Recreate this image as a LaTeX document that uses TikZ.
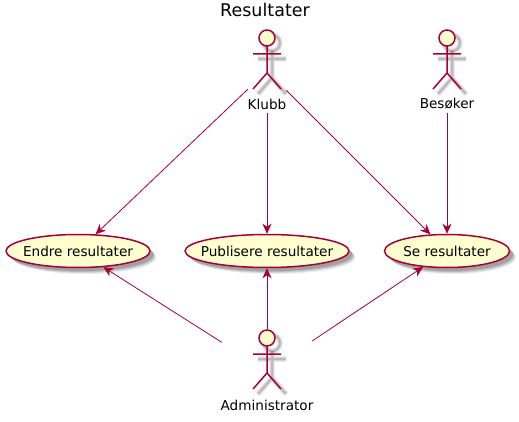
\documentclass[tikz,border=0pt]{standalone}
\usepackage{fontspec}
\setmainfont{DejaVu Sans}
\usetikzlibrary{arrows.meta,positioning,shapes.geometric,shadows}
\definecolor{umlline}{HTML}{A80036}
\definecolor{umlfill}{HTML}{FEFECE}
\tikzset{
  usecase/.style={ellipse,draw=umlline,fill=umlfill,line width=1.5pt,inner xsep=-10pt,inner ysep=0pt,
    minimum height=33pt,font=\fontsize{13.6}{16}\selectfont,
    drop shadow={shadow xshift=6.5pt,shadow yshift=-6.5pt,fill=black,opacity=.07},
    drop shadow={shadow xshift=5.5pt,shadow yshift=-5.5pt,fill=black,opacity=.10},
    drop shadow={shadow xshift=4.5pt,shadow yshift=-4.5pt,fill=black,opacity=.13},
    drop shadow={shadow xshift=3.5pt,shadow yshift=-3.5pt,fill=black,opacity=.13}},
  actorbox/.style={rectangle,inner sep=0pt,minimum height=84pt},
  actortext/.style={inner sep=0pt,font=\fontsize{13.6}{16}\selectfont},
  link/.style={draw=umlline,line width=.8pt,-{Stealth[length=10pt,width=9pt,inset=3pt]}},
  pics/stickman/.style={code={
    \foreach \wd/\op in {6pt/.05,4.5pt/.07,3pt/.09,1.5pt/.10}{
      \begin{scope}[xshift=5pt,yshift=-5pt,draw=black,opacity=\op,line width=\wd]
        \draw (0,-33) circle (8);
        \draw (0,-25)--(0,2) (-14,-17)--(14,-17) (-14,18)--(0,2)--(14,18);
      \end{scope}
    }
    \draw[umlline,fill=umlfill,line width=1.5pt] (0,-33) circle (8);
    \draw[umlline,line width=1.5pt] (0,-25)--(0,2) (-14,-17)--(14,-17) (-14,18)--(0,2)--(14,18);
  }}
}
\begin{document}
\begin{tikzpicture}[x=1pt,y=-1pt]
\useasboundingbox (0,0) rectangle (519,422);
\node[inner sep=0pt,font=\fontsize{17.5}{20}\selectfont] (title) at (265,10) {Resultater};
% actors
\node[actorbox,minimum width=38pt] (klubb) at (267,71) {};
\node[actorbox,minimum width=58pt] (besoker) at (447,71) {};
\node[actorbox,minimum width=90pt] (admin) at (267,371) {};
\pic at (klubb) {stickman};
\pic at (besoker) {stickman};
\pic at (admin) {stickman};
\node[actortext] (klubbtext) at (267,104) {Klubb};
\node[actortext] (besokertext) at (447,104) {Besøker};
\node[actortext] (admintext) at (267,405) {Administrator};
% use cases
\node[usecase,minimum width=144pt] (endre) at (78,251) {Endre resultater};
\node[usecase,minimum width=164pt] (publisere) at (267,251) {Publisere resultater};
\node[usecase,minimum width=125pt] (se) at (447,251) {Se resultater};
\draw[link] (klubb)--(endre);
\draw[link] (klubb)--(publisere);
\draw[link] (klubb)--(se);
\draw[link] (besoker)--(se);
\draw[link] (admin)--(endre);
\draw[link] (admin)--(publisere);
\draw[link] (admin)--(se);
\end{tikzpicture}
\end{document}
